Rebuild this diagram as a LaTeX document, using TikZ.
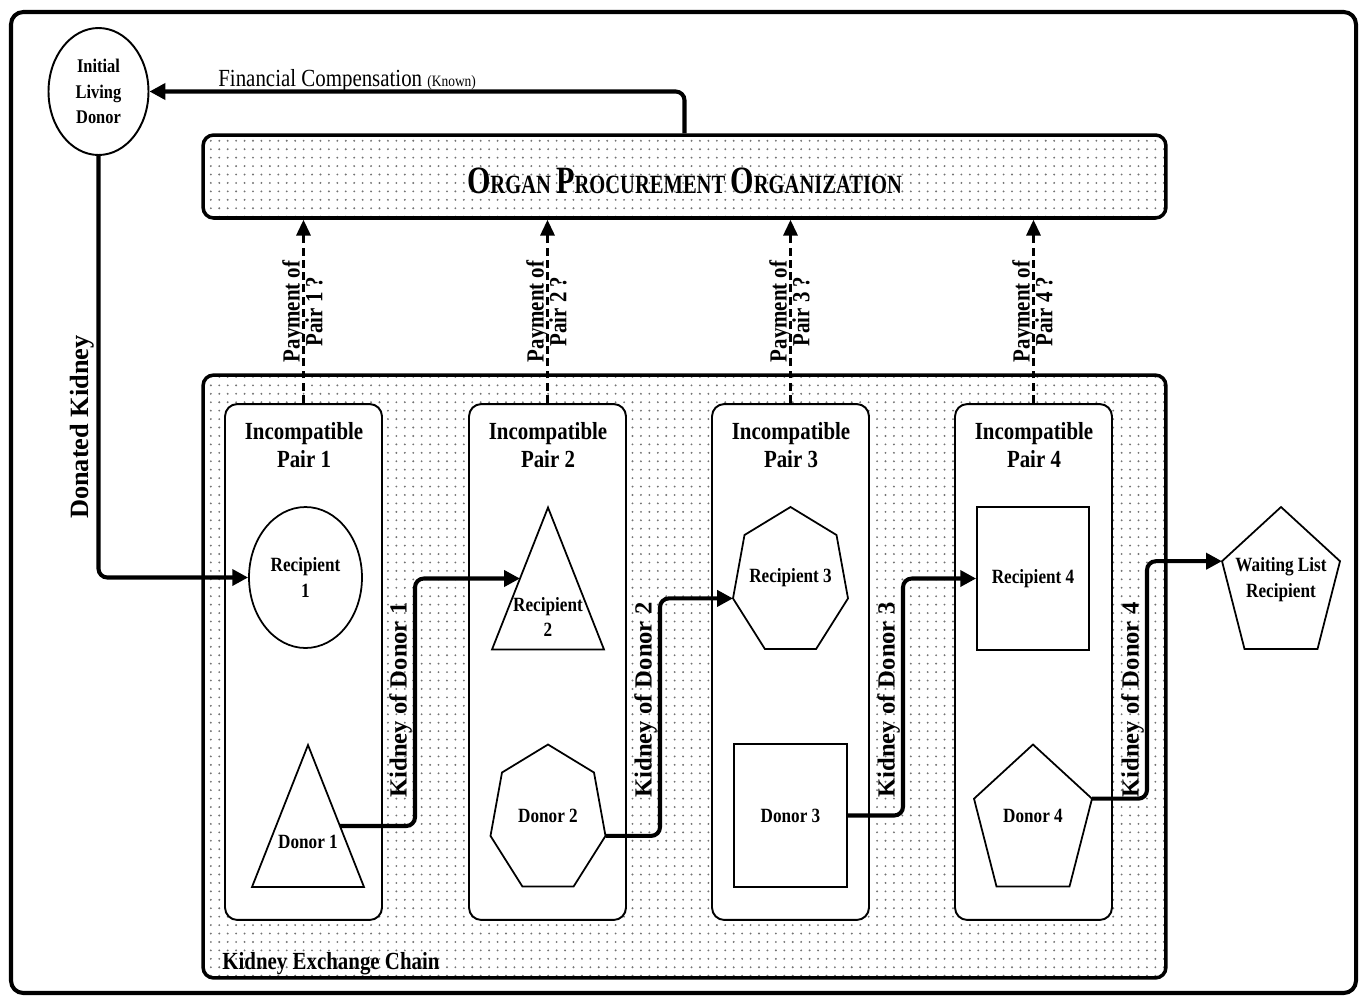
\documentclass[tikz,border=0pt]{standalone}
\usepackage{fontspec}
\setmainfont{Liberation Serif}[FakeStretch=0.85]
\newfontfamily\plainserif{Liberation Serif}
\newfontfamily\titleserif{Liberation Serif}[FakeStretch=0.78]
\usetikzlibrary{arrows.meta,patterns.meta,calc,shapes.geometric}
\begin{document}
\begin{tikzpicture}[x=0.02cm,y=-0.02cm,
 frame/.style={line width=2.3pt, rounded corners=7pt},
 dotbox/.style={draw, line width=2pt, rounded corners=6pt, pattern={Dots[distance=4.8pt,radius=0.6pt]}, pattern color=black!55, minimum width=19.26cm, inner sep=0pt},
 pairbox/.style={draw, line width=1.1pt, fill=white, rounded corners=7pt, minimum width=3.14cm, minimum height=10.32cm, inner sep=0pt},
 shapeline/.style={draw, line width=1pt, fill=white, line join=miter},
 conn/.style={line width=2.3pt, rounded corners=5pt, -{Triangle[length=9pt,width=9pt]}},
 pay/.style={line width=1.7pt, dash pattern=on 4.5pt off 2.5pt, -{Triangle[length=9pt,width=8pt]}},
 pairtitle/.style={font=\bfseries\fontsize{14}{16.4}\selectfont, align=center, inner sep=0pt},
 shapetxt/.style={font=\bfseries\fontsize{11.5}{14.7}\selectfont, align=center, inner sep=0pt},
 paylbl/.style={font=\bfseries\fontsize{14}{13}\selectfont, align=center, rotate=90, inner sep=0pt},
 klbl/.style={font=\plainserif\bfseries\fontsize{14}{16}\selectfont, rotate=90, anchor=south, inner sep=1.5pt},
]
\useasboundingbox (0,0) rectangle (1365,1001);
% outer frame
\draw[frame] (11,12) rectangle (1356,993);

% initial living donor
\node[draw, ellipse, line width=1.1pt, minimum width=2cm, minimum height=2.54cm, inner sep=0pt, align=center,
      font=\bfseries\fontsize{11}{14.7}\selectfont] (ild) at (98.5,91.5) {Initial\\Living\\Donor};

% OPO
\node[dotbox, minimum height=1.66cm] (opo) at (684.5,176.5) {};
\node[font=\titleserif\bfseries, inner sep=0pt] (opot) at (684.5,181)
 {\fontsize{22}{24}\selectfont O\fontsize{15}{18}\selectfont RGAN \fontsize{22}{24}\selectfont P\fontsize{15}{18}\selectfont ROCUREMENT \fontsize{22}{24}\selectfont O\fontsize{15}{18}\selectfont RGANIZATION};

% chain box
\node[dotbox, minimum height=12.06cm] (chain) at (684.5,676.5) {};
\node[anchor=base west, inner sep=0pt, font=\bfseries\fontsize{14}{16}\selectfont] (kec) at (222,969) {Kidney Exchange Chain};

% pair boxes
\node[pairbox] (p1) at (303.5,662) {};
\node[pairbox] (p2) at (547.5,662) {};
\node[pairbox] (p3) at (790.5,662) {};
\node[pairbox] (p4) at (1033.5,662) {};
\node[pairtitle] (p1t) at (304,445) {Incompatible\\Pair 1};
\node[pairtitle] (p2t) at (548,445) {Incompatible\\Pair 2};
\node[pairtitle] (p3t) at (791,445) {Incompatible\\Pair 3};
\node[pairtitle] (p4t) at (1034,445) {Incompatible\\Pair 4};

% shape centres
\coordinate (d1) at (308,816);
\coordinate (r2) at (548,578.5);
\coordinate (d2) at (548,815.5);
\coordinate (r3) at (790.5,578);
\coordinate (d4) at (1033,815.5);
\coordinate (w) at (1281,578);

% recipient 1 (ellipse)
\node[draw, ellipse, line width=1pt, fill=white, minimum width=2.26cm, minimum height=2.82cm, inner sep=0pt, align=center,
      font=\bfseries\fontsize{11.5}{14.7}\selectfont] (r1) at (305.5,577.5) {Recipient\\1};
% donor 1 (triangle)
\draw[shapeline, shift={(d1)}] (0,-71) -- (56,71) -- (-56,71) -- cycle;
\node[shapetxt] (d1t) at ($(d1)+(0,26)$) {Donor 1};
% recipient 2 (triangle)
\draw[shapeline, shift={(r2)}] (0,-71) -- (56,71) -- (-56,71) -- cycle;
\node[shapetxt] (r2t) at ($(r2)+(0,38.5)$) {Recipient\\2};
% donor 2 (heptagon)
\draw[shapeline, shift={(d2)}] (0,-71) -- (46,-43) -- (57.5,20.4) -- (25.6,71) -- (-25.6,71) -- (-57.5,20.4) -- (-46,-43) -- cycle;
\node[shapetxt] (d2t) at (d2) {Donor 2};
% recipient 3 (heptagon)
\draw[shapeline, shift={(r3)}] (0,-71) -- (46,-43) -- (57.5,20.4) -- (25.6,71) -- (-25.6,71) -- (-57.5,20.4) -- (-46,-43) -- cycle;
\node[shapetxt] (r3t) at (r3) {Recipient 3};
% donor 3 (square)
\node[draw, line width=1pt, fill=white, minimum width=2.26cm, minimum height=2.86cm, inner sep=0pt,
      font=\bfseries\fontsize{11.5}{14.7}\selectfont] (d3) at (790.5,815.5) {Donor 3};
% recipient 4 (square)
\node[draw, line width=1pt, fill=white, minimum width=2.24cm, minimum height=2.86cm, inner sep=0pt,
      font=\bfseries\fontsize{11.5}{14.7}\selectfont] (r4) at (1033,578.5) {Recipient 4};
% donor 4 (pentagon)
\draw[shapeline, shift={(d4)}] (0,-71) -- (59,-16.8) -- (36.5,71) -- (-36.5,71) -- (-59,-16.8) -- cycle;
\node[shapetxt] (d4t) at (d4) {Donor 4};
% waiting list recipient (pentagon)
\draw[shapeline, shift={(w)}] (0,-71) -- (59,-16.8) -- (36.5,71) -- (-36.5,71) -- (-59,-16.8) -- cycle;
\node[shapetxt] (wt) at ($(w)+(0,2)$) {Waiting List\\Recipient};

% connector end points
\coordinate (d1e) at ($(d1)+(32,10)$);
\coordinate (r2w) at ($(r2)+(-28,0)$);
\coordinate (d2e) at ($(d2)+(57.5,20.4)$);
\coordinate (r3w) at ($(r3)+(-57.5,20.4)$);
\coordinate (d4e) at ($(d4)+(59,-16.8)$);
\coordinate (ww) at ($(w)+(-59,-16.8)$);
\coordinate (k1) at (415,700);
\coordinate (k2) at (660,700);
\coordinate (k3) at (903,700);
\coordinate (k4) at (1147,700);

% financial compensation
\draw[conn] (opo.north) |- (ild.east);
\node[anchor=base west, inner sep=0pt, font=\fontsize{14}{16}\selectfont] (fin) at (218,86)
 {Financial Compensation {\fontsize{9}{10}\selectfont (Known)}};

% donated kidney
\draw[conn] (ild.south) |- (r1.west);
\node[klbl, inner sep=0pt, font=\plainserif\bfseries\fontsize{15}{17}\selectfont] (dkl) at (95,427) {Donated Kidney};

% chain connectors
\draw[conn] (d1e) -| (k1) |- (r2w);
\draw[conn] (d2e) -| (k2) |- (r3w);
\draw[conn] (d3.east) -| (k3) |- (r4.west);
\draw[conn] (d4e) -| (k4) |- (ww);
\node[klbl] (k1l) at (k1) {Kidney of Donor 1};
\node[klbl] (k2l) at (k2) {Kidney of Donor 2};
\node[klbl] (k3l) at (k3) {Kidney of Donor 3};
\node[klbl] (k4l) at (k4) {Kidney of Donor 4};

% payments
\draw[pay] (p1.north) -- (p1.north |- opo.south);
\draw[pay] (p2.north) -- (p2.north |- opo.south);
\draw[pay] (p3.north) -- (p3.north |- opo.south);
\draw[pay] (p4.north) -- (p4.north |- opo.south);
\node[paylbl] (pl1) at ($(p1.north)!0.5!(p1.north |- opo.south)+(-1,0)$) {Payment of\\Pair 1 ?};
\node[paylbl] (pl2) at ($(p2.north)!0.5!(p2.north |- opo.south)+(-1,0)$) {Payment of\\Pair 2 ?};
\node[paylbl] (pl3) at ($(p3.north)!0.5!(p3.north |- opo.south)+(-1,0)$) {Payment of\\Pair 3 ?};
\node[paylbl] (pl4) at ($(p4.north)!0.5!(p4.north |- opo.south)+(-1,0)$) {Payment of\\Pair 4 ?};
\end{tikzpicture}
\end{document}
